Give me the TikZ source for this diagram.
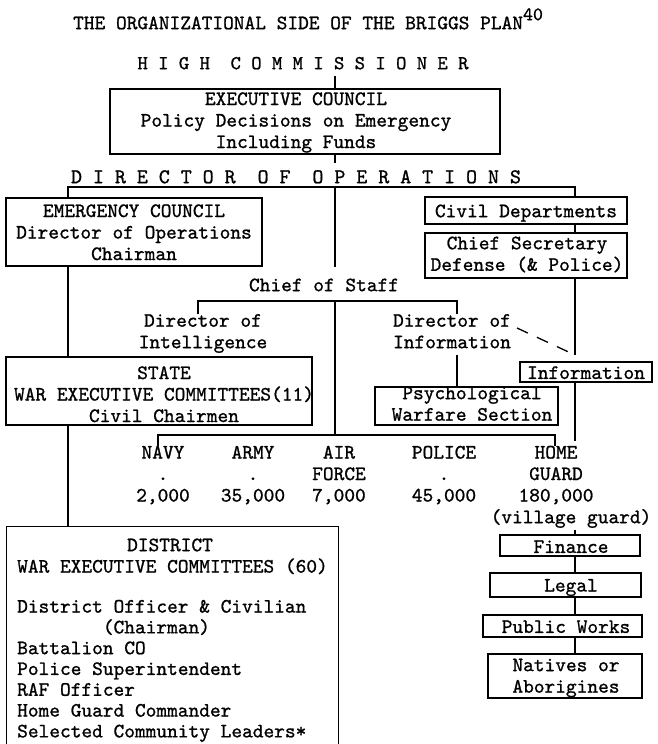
\documentclass[tikz,border=0pt]{standalone}
\usepackage{fontspec}
\newfontfamily\twfont{lmmono10-regular.otf}[FakeBold=1.0]
\usepackage{tikz}
\tikzset{
  tw/.style={font=\fontsize{20.4}{21.5}\selectfont\twfont, inner sep=0pt, align=center,
    execute at begin node=\strut, execute at end node=\strut},
  box/.style={draw, line width=1.4pt, inner sep=0pt},
  conn/.style={line width=1.4pt},
  dashconn/.style={line width=1.3pt, dash pattern=on 12pt off 10pt}
}
\begin{document}
\begin{tikzpicture}[x=1pt,y=-1pt]
\useasboundingbox (0,0) rectangle (657,744);
\clip (0,0) rectangle (657,744);

% --- headings ---
\node[tw, anchor=base west] (title) at (73,29.2) {THE ORGANIZATIONAL SIDE OF THE BRIGGS PLAN\raisebox{9pt}{\fontsize{19}{19}\selectfont 40}};
\node[tw, font=\fontsize{19.7}{21.5}\selectfont\twfont] (hc) at (303,64.9) {H I G H \ C O M M I S S I O N E R};
\node[tw, font=\fontsize{20.9}{21.5}\selectfont\twfont] (dop) at (296,178.9) {D I R E C T O R \ O F \ O P E R A T I O N S};

% --- boxes ---
\node[box, minimum width=390pt, minimum height=65pt] (ec) at (305,121.5) {};
\node[tw] (ect) at (296,123.4) {EXECUTIVE COUNCIL\\Policy Decisions on Emergency\\Including Funds};

\node[box, minimum width=256pt, minimum height=68pt] (emc) at (134,232) {};
\node[tw] (emct) at (134,235.4) {EMERGENCY COUNCIL\\Director of Operations\\Chairman};

\node[box, minimum width=202pt, minimum height=27pt] (civ) at (526,210.5) {};
\node[tw] (civt) at (526,212.9) {Civil Departments};

\node[box, minimum width=202pt, minimum height=45pt] (cs) at (526,255.5) {};
\node[tw] (cst) at (527,256.9) {Chief Secretary\\Defense (\& Police)};

\node[tw] (cos) at (324,286.9) {Chief of Staff};
\node[tw] (dint) at (203,334.4) {Director of\\Intelligence};
\node[tw] (dinf) at (452,334.4) {Director of\\Information};

\node[box, minimum width=132pt, minimum height=20pt] (info) at (586,372) {};
\node[tw] (infot) at (586,374.6) {Information};

\node[box, minimum width=183pt, minimum height=38pt] (psy) at (466.5,406) {};
\node[tw] (psyt) at (472,406.9) {Psychological\\Warfare Section};

\node[box, minimum width=306pt, minimum height=68pt] (state) at (159,391) {};
\node[tw] (statet) at (164,397.4) {STATE\\WAR EXECUTIVE COMMITTEES(11)\\Civil Chairmen};

% --- forces ---
\node[tw] (navy) at (163,476.9) {NAVY\\.\\2,000};
\node[tw] (army) at (253,476.9) {ARMY\\.\\35,000};
\node[tw] (air) at (339,476.9) {AIR\\FORCE\\7,000};
\node[tw] (police) at (444,476.9) {POLICE\\.\\45,000};
\node[tw] (home) at (556,476.9) {HOME\\GUARD\\180,000};
\node[tw] (vg) at (571,518.9) {(village guard)};

% --- right column boxes ---
\node[box, minimum width=140pt, minimum height=21pt] (fin) at (570,545.5) {};
\node[tw] (fint) at (571,548.6) {Finance};
\node[box, minimum width=151pt, minimum height=24pt] (leg) at (565.5,585) {};
\node[tw] (legt) at (571,587.2) {Legal};
\node[box, minimum width=159pt, minimum height=22pt] (pw) at (562.5,626) {};
\node[tw] (pwt) at (566,628.6) {Public Works};
\node[box, minimum width=154pt, minimum height=44pt] (nat) at (565,676) {};
\node[tw] (natt) at (566,678.9) {Natives or\\Aborigines};

% --- district box ---
\node[box, anchor=north west, minimum width=332pt, minimum height=218pt] (dist) at (6,526) {};
\node[tw, anchor=base] (distt) at (170,551.2) {DISTRICT};
\node[tw, font=\fontsize{20.4}{20.8}\selectfont\twfont, align=left, anchor=north west] (distl) at (17,558.2)
  {WAR EXECUTIVE COMMITTEES (60)\\[19.2pt]
   District Officer \& Civilian\\
   \hspace*{4.2em}(Chairman)\\
   Battalion CO\\
   Police Superintendent\\
   RAF Officer\\
   Home Guard Commander\\
   Selected Community Leaders*};

% --- coordinates ---
\coordinate (cx) at (335,0);
\coordinate (lx) at (68,0);
\coordinate (rx) at (575,0);
\coordinate (ecend) at (335,163);
\coordinate (bl) at (68,187);
\coordinate (bc) at (335,187);
\coordinate (br) at (575,187);
\coordinate (bcend) at (335,267);
\coordinate (cl) at (198,301);
\coordinate (cc) at (335,301);
\coordinate (cr) at (457,301);
\coordinate (sl) at (158,435);
\coordinate (sc) at (335,435);
\coordinate (sr) at (555,435);
\coordinate (rjoin) at (575,355);
\coordinate (dstart) at (517,328);
\coordinate (rend) at (575,441);

% --- connectors ---
\draw[conn] (hc.south -| cx) -- (ec.north -| cx);
\draw[conn] (ec.south -| cx) -- (ecend);
\draw[conn] (emc.north -| bl) -- (bl) -- (br) -- (civ.north -| br);
\draw[conn] (bc) -- (bcend);
\draw[conn] (civ.south -| rx) -- (cs.north -| rx);
\draw[conn] (cs.south -| rx) -- (rjoin);
\draw[dashconn] (dstart) -- (rjoin);
\draw[conn] (info.south -| rx) -- (rend);
\draw[conn] (dint.north -| cl) -- (cl) -- (cr) -- (dinf.north -| cr);
\draw[conn] (cc) -- (sc);
\draw[conn] (dinf.south -| cr) -- (psy.north -| cr);
\draw[conn] (navy.north -| sl) -- (sl) -- (sr) -- (home.north -| sr);
\draw[conn] (emc.south -| lx) -- (state.north -| lx);
\draw[conn] (state.south -| lx) -- (dist.north -| lx);
\draw[conn] (vg.south -| rx) -- (fin.north -| rx);
\draw[conn] (fin.south -| rx) -- (leg.north -| rx);
\draw[conn] (leg.south -| rx) -- (pw.north -| rx);
\draw[conn] (pw.south -| rx) -- (nat.north -| rx);
\end{tikzpicture}
\end{document}
